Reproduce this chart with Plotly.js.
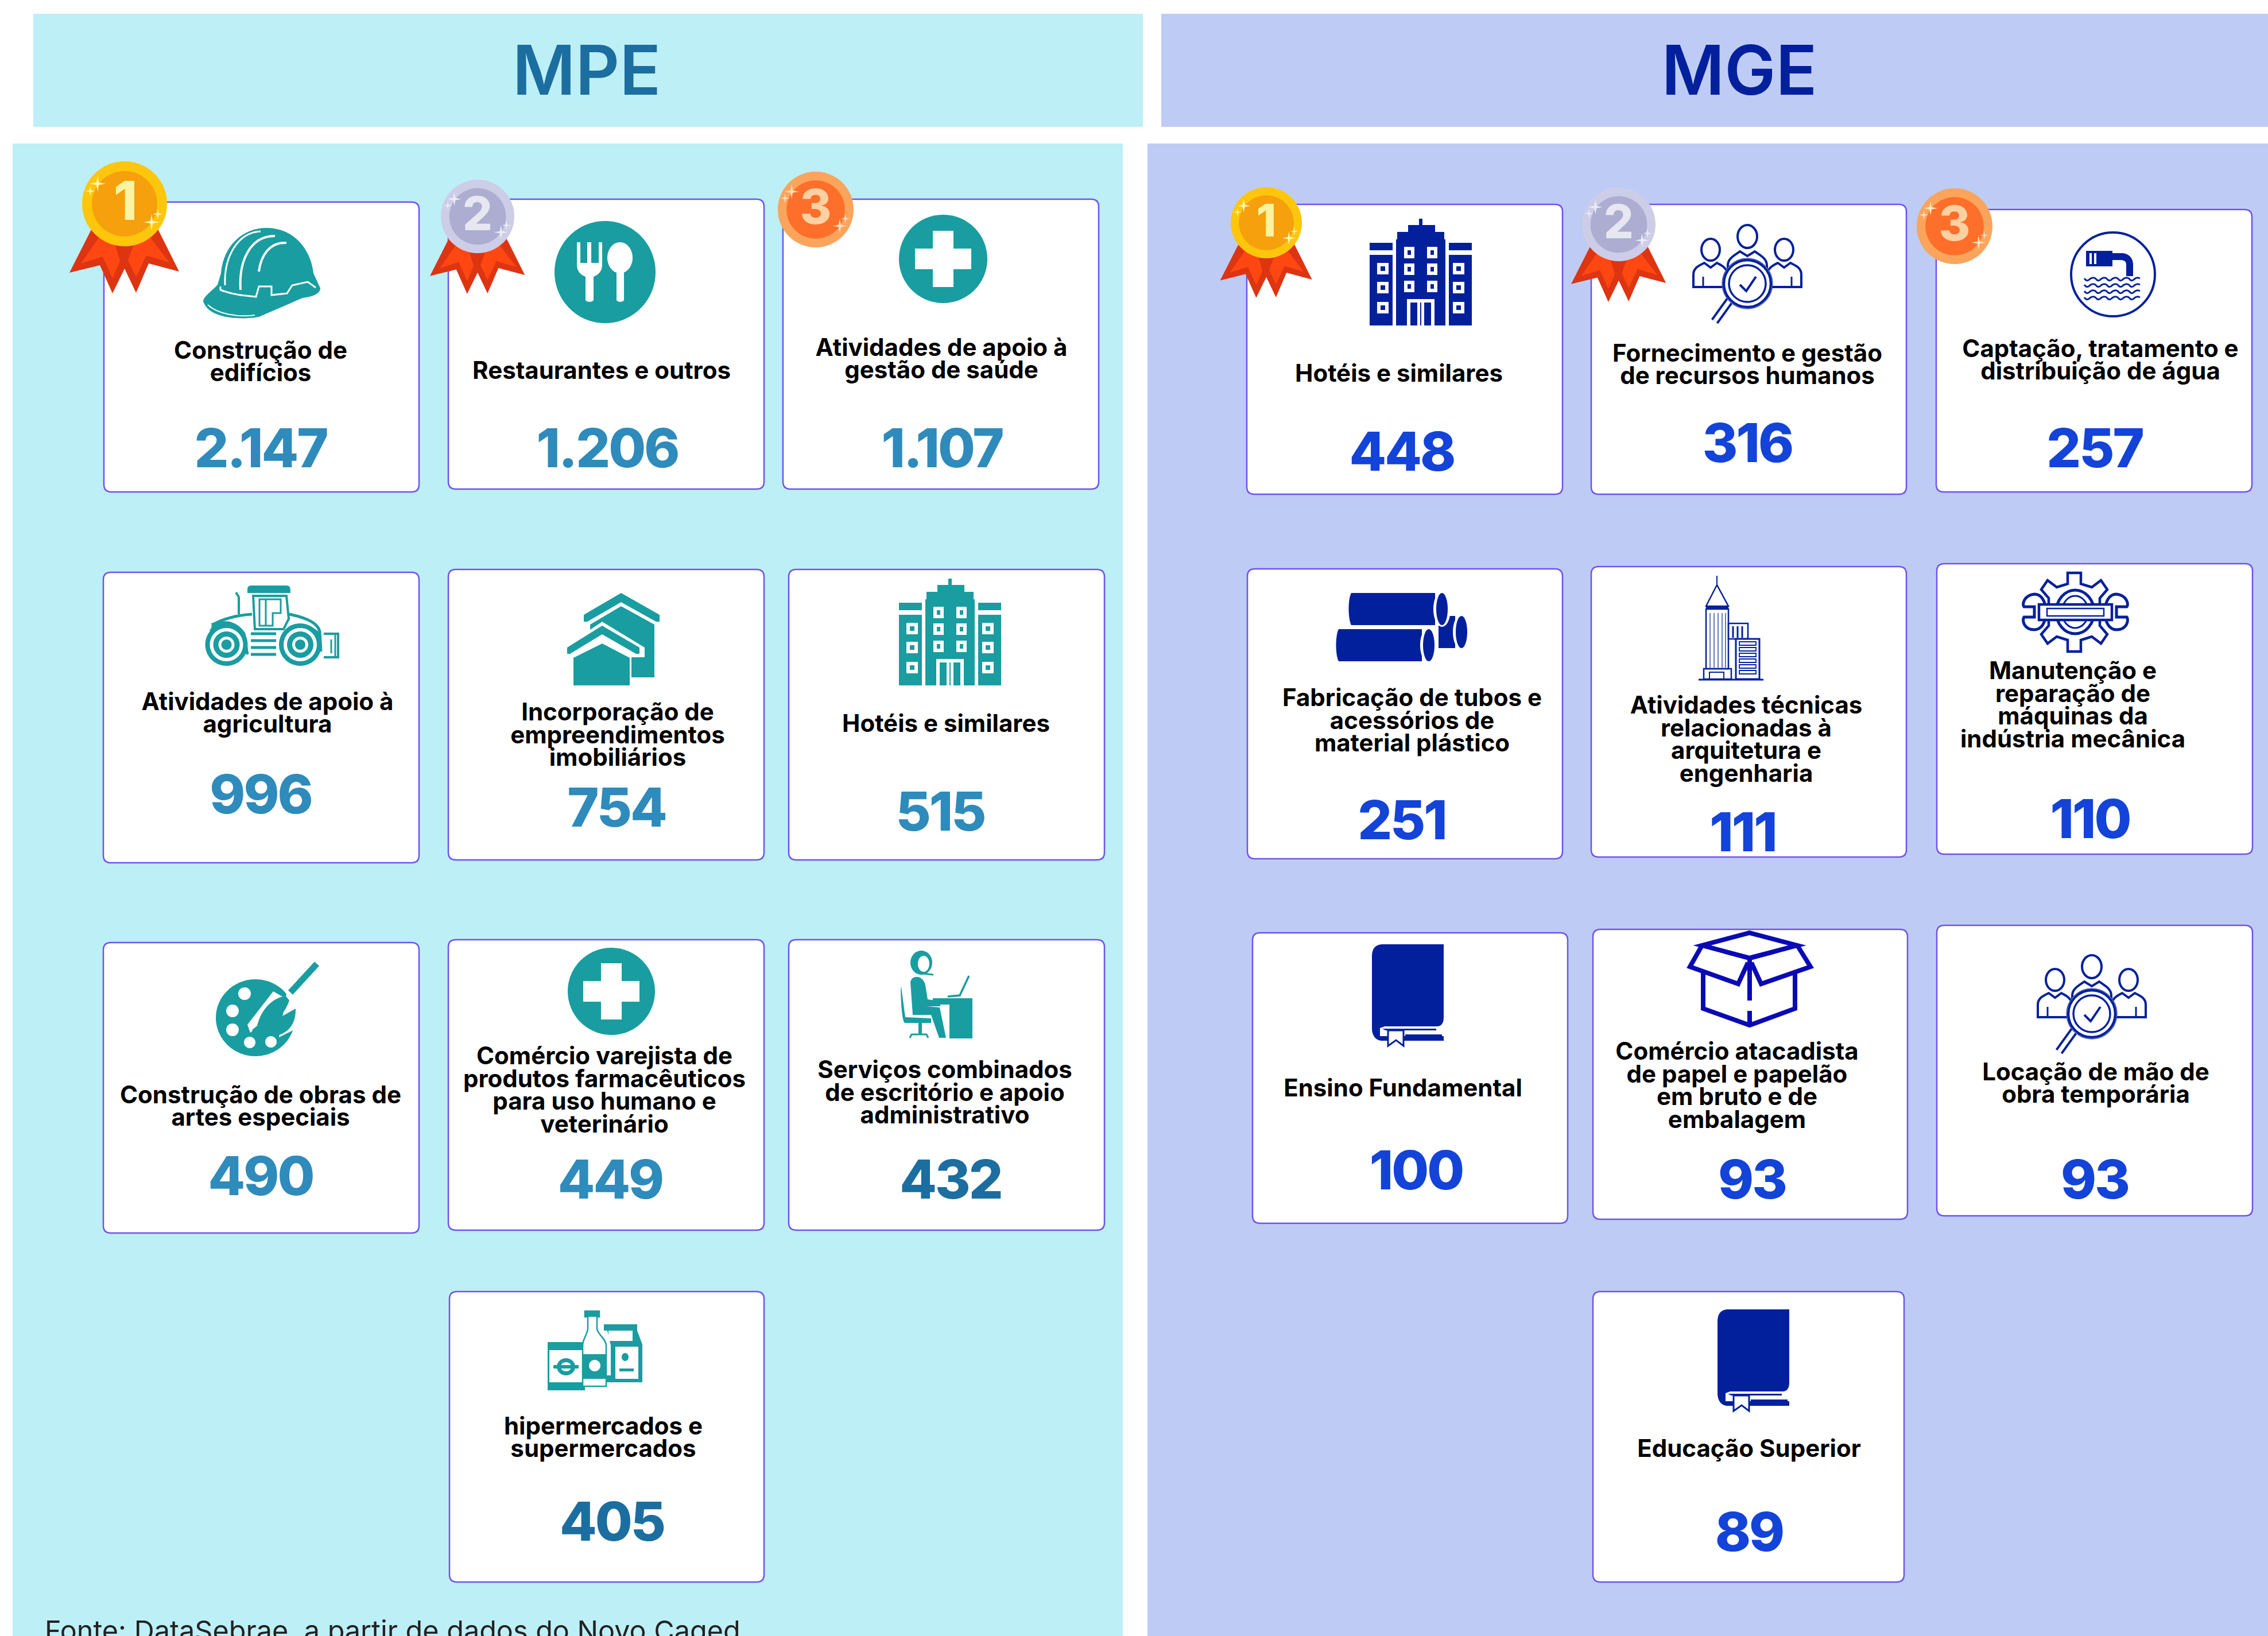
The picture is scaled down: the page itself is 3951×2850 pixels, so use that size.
<!DOCTYPE html>
<html><head><meta charset="utf-8">
<script src="https://cdn.plot.ly/plotly-3.0.1.min.js"></script>
<style>html,body{margin:0;padding:0;background:#fff;overflow:hidden}</style>
</head><body><div id="chart" style="width:3951px;height:2850px"></div>
<script>
// ---------- chart values ----------
const groupTitles = ["MPE", "MGE"];
const mpeLabels = ["Construção de|edifícios","Restaurantes e outros","Atividades de apoio à|gestão de saúde","Atividades de apoio à|agricultura","Incorporação de|empreendimentos|imobiliários","Hotéis e similares","Construção de obras de|artes especiais","Comércio varejista de|produtos farmacêuticos|para uso humano e|veterinário","Serviços combinados|de escritório e apoio|administrativo","hipermercados e|supermercados"];
const mpeValues = ["2.147","1.206","1.107","996","754","515","490","449","432","405"];
const mgeLabels = ["Hotéis e similares","Fornecimento e gestão|de recursos humanos","Captação, tratamento e|distribuição de água","Fabricação de tubos e|acessórios de|material plástico","Atividades técnicas|relacionadas à|arquitetura e|engenharia","Manutenção e|reparação de|máquinas da|indústria mecânica","Ensino Fundamental","Comércio atacadista|de papel e papelão|em bruto e de|embalagem","Locação de mão de|obra temporária","Educação Superior"];
const mgeValues = ["448","316","257","251","111","110","100","93","93","89"];
const sourceNote = "Fonte: DataSebrae, a partir de dados do Novo Caged";

// ---------- layout positions (page px) ----------
const mpeCards = [[181,352,730,857],[781,347,1331,852],[1364,347,1914,852],[180,997,730,1503],[781,992,1331,1498],[1374,992,1924,1498],[180,1642,730,2148],[781,1637,1331,2143],[1374,1637,1924,2143],[783,2250,1331,2756]];
const mgeCards = [[2172,356,2722,861],[2772,356,3321,861],[3373,365,3923,857],[2173,991,2722,1496],[2772,987,3321,1493],[3374,982,3924,1488],[2182,1625,2731,2131],[2775,1619,3323,2124],[3374,1612,3924,2118],[2775,2250,3317,2756]];
const mpeLabelPos = [[454,634],[1048,649],[1640,629],[466,1246],[1076,1284],[1648,1264],[454,1931],[1053,1903],[1646,1907],[1051,2508]];
const mgeLabelPos = [[2437,654],[3044,639],[3659,631],[2460,1259],[3042,1292],[3611,1232],[2444,1899],[3026,1895],[3651,1891],[3047,2527]];
const mpeValuePos = [[454,790],[1058,790],[1641,790],[454,1393],[1074,1416],[1638,1423],[454,2058],[1063,2064],[1656,2064],[1066,2660]];
const mgeValuePos = [[2442,796],[3044,781],[3649,790],[2442,1438],[3036,1459],[3641,1436],[2467,2048],[3052,2064],[3649,2064],[3047,2678]];
const mpeValueColors = ["#2E8BBB","#2E8BBB","#2E8BBB","#2E8BBB","#2E8BBB","#2E8BBB","#2E8BBB","#2E8BBB","#1B6E9F","#1B6E9F"];
const LINE = 39.5;

// ---------- drawing helpers ----------
const TEAL="#199DA0", NAVY="#03209C", BOX="#0A0AB4", WHITE="#FFFFFF";
const shapes=[];
function tr(path,ox,oy,s){let i=0;return path.replace(/-?\d+(\.\d+)?/g,m=>{const v=+m*s+((i++%2===0)?ox:oy);return v.toFixed(1);});}
function add(path,ox,oy,s,fill,stroke,w){shapes.push({type:'path',xref:'x',yref:'y',layer:'below',path:tr(path,ox,oy,s),fillcolor:fill||'rgba(0,0,0,0)',line:{color:stroke||'rgba(0,0,0,0)',width:stroke?(w||1):0}});}
function E(cx,cy,rx,ry){ry=ry===undefined?rx:ry;const k=.5523;return `M ${cx-rx} ${cy} C ${cx-rx} ${cy-k*ry} ${cx-k*rx} ${cy-ry} ${cx} ${cy-ry} C ${cx+k*rx} ${cy-ry} ${cx+rx} ${cy-k*ry} ${cx+rx} ${cy} C ${cx+rx} ${cy+k*ry} ${cx+k*rx} ${cy+ry} ${cx} ${cy+ry} C ${cx-k*rx} ${cy+ry} ${cx-rx} ${cy+k*ry} ${cx-rx} ${cy} Z`;}
function R(x0,y0,x1,y1){return `M ${x0} ${y0} L ${x1} ${y0} L ${x1} ${y1} L ${x0} ${y1} Z`;}
function rect(x0,y0,x1,y1,rr,fill){shapes.push({type:'rect',xref:'x',yref:'y',layer:'below',x0,y0,x1,y1,fillcolor:fill,line:{width:0}});}
function card(c){const [a,b,d,e]=c,r=13;shapes.push({type:'path',xref:'x',yref:'y',layer:'below',path:`M ${a+r} ${b} L ${d-r} ${b} Q ${d} ${b} ${d} ${b+r} L ${d} ${e-r} Q ${d} ${e} ${d-r} ${e} L ${a+r} ${e} Q ${a} ${e} ${a} ${e-r} L ${a} ${b+r} Q ${a} ${b} ${a+r} ${b} Z`,fillcolor:WHITE,line:{color:'#6F52EE',width:2.5}});}
function star(cx,cy,r){const q=r*.16;return `M ${cx} ${cy-r} L ${cx+q} ${cy-q} L ${cx+r} ${cy} L ${cx+q} ${cy+q} L ${cx} ${cy+r} L ${cx-q} ${cy+q} L ${cx-r} ${cy} L ${cx-q} ${cy-q} Z`;}
const medalTexts={x:[],y:[],t:[],c:[],s:[]};
function medal(cx,cy,r,n){
  const pal={1:["#FFC60B","#F5A00C","#FBF3A0","#FFF3B0"],2:["#CDCDE8","#ADADD2","#E7E7F2","#ECECF6"],3:["#FBA45C","#FD6F2A","#FFD0A2","#FFE0C0"]}[n];
  const s=r/74;
  if(n<3){
    add("M -58 45 L -96 120 L -43 107 L -21 156 L 0 113 L 20 155 L 42 104 L 95 118 L 58 44 Z",cx,cy,s,"#DD3412");
    add("M -42 55 L -76 104 L -38 92 L -21 130 L -8 100 L -20 60 Z",cx,cy,s,"#FF4712");
    add("M 42 55 L 78 102 L 38 90 L 20 128 L 6 98 L 20 60 Z",cx,cy,s,"#FF4712");
  }
  add(E(0,0,74),cx,cy,s,pal[0]);
  add(E(0,0,57),cx,cy,s,pal[1]);
  [[-47,-35,14],[-60,-22,9],[47,32,14],[58,18,9]].forEach(p=>add(star(p[0],p[1],p[2]),cx,cy,s,pal[3]));
  medalTexts.x.push(cx);medalTexts.y.push(cy+4);medalTexts.t.push(String(n));medalTexts.c.push(pal[2]);medalTexts.s.push(94*s);
}
// ---------- icons ----------
function cross(cx,cy,r){add(E(0,0,r),cx,cy,1,TEAL);add("M -18 -49 L 18 -49 L 18 -18 L 49 -18 L 49 18 L 18 18 L 18 49 L -18 49 L -18 18 L -49 18 L -49 -18 L -18 -18 Z",cx,cy,1,WHITE);}
function helmet(o,p){const c=TEAL;
  add("M 25 99 L 31 79 C 35 30 70 0 110 0 C 160 0 188 40 192 79 L 204 105 C 204 115 190 120 173 122 L 97 155 C 70 160 10 160 0 128 C 0 120 15 110 25 99 Z",o,p,1,c);
  add("M 38 100 C 36 50 60 8 100 6",o,p,1,null,WHITE,3);
  add("M 65 108 C 62 60 80 14 125 14",o,p,1,null,WHITE,4);
  add("M 97 76 C 100 50 115 24 145 26",o,p,1,null,WHITE,4);
  add("M 30 102 L 30 108 C 50 116 70 118 92 120 L 97 102 L 119 102 L 119 117 L 146 114 L 155 100 L 182 94 L 196 104",o,p,1,null,WHITE,3);
  add("M 8 134 C 25 150 60 156 90 152",o,p,1,null,WHITE,2);
}
function cutlery(cx,cy){add(E(0,0,88,89),cx,cy,1,TEAL);
  add("M -49 -52 L -43 -52 L -43 -16 L -31 -16 L -31 -52 L -24 -52 L -24 -16 L -11 -16 L -11 -52 L -5 -52 L -5 -12 C -5 0 -14 6 -20 8 L -20 48 C -20 53 -34 53 -34 48 L -34 8 C -40 6 -49 0 -49 -12 Z",cx,cy,1,WHITE);
  add(E(26,-25,22,27),cx,cy,1,WHITE);add("M 20 -5 L 33 -5 L 33 48 C 33 53 20 53 20 48 Z",cx,cy,1,WHITE);}
function tractor(o,p){const c=TEAL;
  add("M 72 13 L 72 6 C 72 1 76 0 80 0 L 140 0 C 146 0 147 3 147 13 Z",o,p,1,c);
  add("M 82 18 L 140 18 L 144 58 L 135 76 L 85 76 Z",o,p,1,null,c,4);
  add("M 93 24 L 130 24 L 130 48 L 116 48 L 116 70 L 93 70 Z",o,p,1,null,c,3);
  add("M 104 24 L 104 70",o,p,1,null,c,3);
  add("M 52 12 L 57 20 L 57 50",o,p,1,null,c,4);
  add("M 12 65 L 12 88 M 12 68 C 30 58 50 52 80 50",o,p,1,null,c,5);
  add("M 8 80 C 20 58 50 60 66 84 L 72 120",o,p,1,null,c,5);
  add("M 145 50 C 175 56 195 66 198 80 L 200 115",o,p,1,null,c,5);
  add("M 130 100 C 140 70 175 62 197 85",o,p,1,null,c,5);
  add("M 78 84 L 122 84 M 78 96 L 122 96 M 78 108 L 122 108 M 78 120 L 122 120",o,p,1,null,c,5);
  add("M 205 84 L 230 84 L 230 125 L 205 125",o,p,1,null,c,4);add("M 218 94 L 218 118 M 225 84 L 225 125",o,p,1,null,c,3);
  [[35.5,103],[164,103]].forEach(w=>{add(E(w[0],w[1],37),o,p,1,c);add(E(w[0],w[1],29),o,p,1,WHITE);add(E(w[0],w[1],23),o,p,1,c);add(E(w[0],w[1],14),o,p,1,WHITE);add(E(w[0],w[1],9),o,p,1,c);});
}
function houses(o,p){const c=TEAL;
  add("M 94 23 L 152 55 L 152 147 L 112 147 L 112 100 L 61 60 L 40 70 L 40 55 Z",o,p,1,c);
  add("M 94 0 L 161 38 L 161 50 L 155 50 L 94 16 L 35 50 L 29 50 L 29 38 Z",o,p,1,c);
  add("M 61 50 L 135 95 L 135 112 L 112 112 L 112 165 L 5 165 L -6 95 Z",o,p,1,WHITE);
  add("M 61 57 L 126 95 L 126 106 L 120 106 L 61 72 L 5 106 L 0 106 L 0 95 Z",o,p,1,c);
  add("M 61 88 L 109 113 L 109 161 L 11 161 L 11 113 Z",o,p,1,c);
}
function hotel(o,p,c){
  add(R(86,0,92,12),o,p,1,c);add(R(67,11,114,24),o,p,1,c);add(R(48,23,130,37),o,p,1,c);add(R(46,36,132,186),o,p,1,c);
  add(R(0,42,40,55),o,p,1,c);add(R(138,42,178,55),o,p,1,c);add(R(0,63,40,186),o,p,1,c);add(R(138,63,178,186),o,p,1,c);
  [[69,59],[109,59],[69,88],[109,88],[69,118],[109,118]].forEach(q=>{add(R(q[0]-9,q[1]-10,q[0]+9,q[1]+10),o,p,1,WHITE);add(R(q[0]-3,q[1]-4,q[0]+3,q[1]+4),o,p,1,c);});
  [[23,87],[155,87],[23,120],[155,120],[23,155],[155,155]].forEach(q=>{add(R(q[0]-10,q[1]-10,q[0]+10,q[1]+10),o,p,1,WHITE);add(R(q[0]-4,q[1]-4,q[0]+4,q[1]+4),o,p,1,c);});
  add(R(65,140,113,186),o,p,1,WHITE);add(R(71,146,83,186),o,p,1,c);add(R(88,146,90,186),o,p,1,c);add(R(95,146,107,186),o,p,1,c);
}
function palette(o,p){const c=TEAL;
  add(E(69,96,69,67),o,p,1,c);
  add("M 125 42 L 170 42 L 170 100 L 110 130 Z",o,p,1,WHITE);
  add("M 139 80 C 140 120 110 135 68 128 L 95 105 Z",o,p,1,c);
  add("M 128 66 L 100 50 L 55 108 L 60 122 Z",o,p,1,WHITE);
  add("M 176 2 L 130 52",o,p,1,null,c,11);
  add("M 122 58 C 95 62 78 85 72 110 L 62 118 C 90 122 118 95 128 66 Z",o,p,1,c);
  [[50,54,11],[29,84,11],[29,117,11],[59,139,10],[96,138,10]].forEach(q=>add(E(q[0],q[1],q[2]),o,p,1,WHITE));
}
function person(o,p){const c=TEAL;
  add(E(37,21,19,21),o,p,1,c);add(E(41,23,10,14),o,p,1,WHITE);add("M 40 40 L 58 42",o,p,1,null,c,3);
  add("M 18 55 C 20 42 40 42 44 60 L 48 85 L 70 88 L 70 97 L 46 97 L 69 99 L 80 152 L 68 152 L 54 112 L 22 112 Z",o,p,1,c);
  add("M 2 63 L 9 116 L 54 118 L 54 126 L 8 126 C 2 122 0 60 2 63 Z",o,p,1,c);
  add(R(32,126,38,147),o,p,1,c);add("M 17 152 L 20 146 L 46 146 L 49 152",o,p,1,null,c,3);
  add("M 57 83 L 126 83 L 126 153 L 86 153 L 86 94 L 57 94 Z",o,p,1,c);
  add("M 120 44 L 104 78 L 83 80",o,p,1,null,c,3.5);
}
function grocery(o,p){const c=TEAL;
  add(R(0,54,65,138),o,p,1,c);add(R(3,68,62,124),o,p,1,WHITE);
  add(E(32,97,16,15),o,p,1,c);add(E(32,97,9,8),o,p,1,WHITE);add(R(10,94,54,100),o,p,1,c);
  add("M 65 0 L 90 0 L 90 10 L 86 10 L 86 30 C 86 40 102 48 102 60 L 102 131 L 61 131 L 61 60 C 61 48 70 40 70 30 L 70 10 L 65 10 Z",o,p,1,WHITE,c,2.5);
  add(R(61,75,102,118),o,p,1,c);add(E(82,95,10,10),o,p,1,WHITE);add(R(65,0,90,10),o,p,1,c);
  add("M 98 23 L 156 23 L 156 34 L 165 58 L 165 124 L 102 124 L 102 112 L 110 112 L 110 60 L 104 34 L 98 34 Z",o,p,1,c);
  add(R(106,34,148,52),o,p,1,WHITE);add(R(118,62,158,118),o,p,1,WHITE);add(E(135,80,6,7),o,p,1,c);add(R(125,100,150,105),o,p,1,c);
}
function waterIcon(o,p){const c=NAVY;
  add(E(75,75,73),o,p,1,null,c,4);
  add(R(28,34,74,61),o,p,1,c);add(R(34,38,38,57),o,p,1,WHITE);add(R(42,38,46,57),o,p,1,WHITE);
  add("M 70 38 L 90 38 C 102 38 110 46 110 58 L 110 78 L 98 78 L 98 58 C 98 52 94 50 88 50 L 70 50 Z",o,p,1,c);
  [84,95,106,117].forEach(y=>{let d=`M 25 ${y-2}`;for(let i=0;i<5;i++){const x=25+i*19.4;d+=` Q ${x+4.8} ${y+5} ${x+9.7} ${y-1} Q ${x+14.5} ${y-5} ${x+19.4} ${y-2}`;}add(d,o,p,1,null,c,3);});
}
function people(o,p,s){const c=NAVY;
  [[33,41,16],[161,41,16],[97,18,17]].forEach(h=>add(E(h[0],h[1],h[2],h[2]+3),o,p,s,WHITE,c,4));
  add("M 3 106 L 3 84 C 3 72 14 68 22 64 L 33 72 L 44 64 C 52 68 60 72 64 84 L 64 106 Z",o,p,s,WHITE,c,4);
  add("M 130 106 L 130 84 C 134 72 142 68 150 64 L 161 72 L 172 64 C 180 68 191 72 191 84 L 191 106 Z",o,p,s,WHITE,c,4);
  add("M 63 90 L 63 68 C 63 56 76 50 84 44 L 97 52 L 110 44 C 118 50 131 56 131 68 L 131 90 Z",o,p,s,WHITE,c,4);
  add("M 20 106 L 20 88 M 174 106 L 174 88",o,p,s,null,c,3);
  add("M 68 127 L 40 166",o,p,s,null,c,15);add("M 68 127 L 40 166",o,p,s,null,WHITE,7);
  add(E(97,100,44,44),o,p,s,WHITE,c,0);
  add(E(97,100,41,41),o,p,s,WHITE,c,4.5);add(E(97,100,32,32),o,p,s,WHITE,c,3.5);
  add("M 84 102 L 95 113 L 112 88",o,p,s,null,c,4);
}
function book(o,p,s){const c=NAVY;
  add("M 0 22 C 0 5 8 0 20 0 L 125 0 L 125 128 C 125 138 120 143 114 143 L 22 143 L 14 146 L 14 160 L 125 160 L 125 168 L 18 168 C 6 168 0 158 0 146 Z",o,p,s,c);
  add("M 22 148 L 110 148 L 118 158 L 30 158 Z",o,p,s,WHITE);
  add("M 18 147 L 112 147 L 112 150 L 24 150 Z",o,p,s,c);
  add("M 58 157 L 122 157 L 122 162 L 58 162 Z",o,p,s,c);
  add("M 28 150 L 55 150 L 55 177 L 42 167 L 28 177 Z",o,p,s,WHITE,c,3);
}
function boxIcon(o,p){const c=BOX,w=8;
  add("M 23 70 L 23 132 L 104 161 L 183 132 L 183 70",o,p,1,null,c,w);
  add("M 104 75 L 104 118 M 104 136 L 104 160",o,p,1,null,c,w);
  add("M 104 0 L 187 22 L 104 44 L 21 22 Z",o,p,1,null,c,w);
  add("M 21 22 L 0 59 L 84 89 L 101 52",o,p,1,WHITE,c,w);
  add("M 187 22 L 210 59 L 124 89 L 107 52",o,p,1,WHITE,c,w);
  add("M 21 22 L 104 44 L 187 22",o,p,1,null,c,w);
  add("M 104 44 L 104 75",o,p,1,null,c,w);
}
function pipes(o,p){const c=NAVY;
  add("M 178 40 L 207 40 L 207 96 L 178 96 Z",o,p,1,c);add(E(218,68,15,31),o,p,1,WHITE);add(E(218,68,10,28),o,p,1,c);
  add("M 26 0 L 172 0 L 172 56 L 26 56 C 20 45 20 10 26 0 Z",o,p,1,c);add(E(184,28,15,31),o,p,1,WHITE);add(E(184,28,10,28),o,p,1,c);
  add("M 0 60 L 175 60 L 175 120 L 0 120 Z",o,p,1,WHITE);
  add("M 4 63 L 149 63 L 149 119 L 4 119 C -2 108 -2 74 4 63 Z",o,p,1,c);add(E(161,91,15,31),o,p,1,WHITE);add(E(161,91,10,28),o,p,1,c);
}
function tower(o,p){const c=NAVY;
  add("M 32 0 L 32 18",o,p,1,null,c,2);add("M 32 16 L 13 53 L 52 53 Z",o,p,1,null,c,2.5);add(R(13,53,52,58),o,p,1,c);
  add(R(13,58,52,162),o,p,1,null,c,2.5);
  add("M 20 65 L 20 160 M 27 65 L 27 160 M 34 65 L 34 160 M 41 65 L 41 160 M 47 65 L 47 160",o,p,1,null,c,1.2);
  add(R(9,162,57,180),o,p,1,null,c,2.5);add(R(19,168,44,180),o,p,1,null,c,2);
  add(R(52,83,86,110),o,p,1,null,c,2.5);add("M 60 88 L 60 108 M 68 88 L 68 108 M 76 88 L 76 108",o,p,1,null,c,3);
  add(R(65,110,106,180),o,p,1,WHITE,c,3);
  [118,128,138,148,158,168].forEach(y=>add(R(71,y-3,100,y+3),o,p,1,null,c,1.8));
  add("M 0 181 L 113 181",o,p,1,null,c,3);
}
function gear(o,p){const c=NAVY;
  add("M 80 1 L 103 1 L 103 20 L 122 26 L 138 14 L 149 30 L 136 45 L 136 93 L 149 108 L 138 124 L 122 112 L 103 118 L 103 138 L 80 138 L 80 118 L 61 112 L 45 124 L 34 108 L 47 93 L 47 45 L 34 30 L 45 14 L 61 26 L 80 20 Z",o,p,1,WHITE,c,4.5);
  add(E(93,69,33,38),o,p,1,null,c,5);add(E(93,69,23,28),o,p,1,null,c,3);
  add("M 22 38 C 4 40 0 56 4 60 L 22 60 L 22 78 L 4 78 C 0 84 4 100 22 100 C 34 100 42 88 42 69 C 42 50 34 38 22 38 Z",o,p,1,WHITE,c,5);
  add("M 165 38 C 183 40 187 56 183 60 L 165 60 L 165 78 L 183 78 C 187 84 183 100 165 100 C 153 100 145 88 145 69 C 145 50 153 38 165 38 Z",o,p,1,WHITE,c,5);
  add(R(30,56,157,83),o,p,1,WHITE,c,4.5);add(R(44,63,143,76),o,p,1,null,c,2.5);
}
// ---------- draw ----------
rect(58,24,1991,221,0,"#BDEFF7");rect(2023,24,3951,221,0,"#BECCF5");
rect(22,250,1956,2850,0,"#BDEFF7");rect(1999,250,3951,2850,0,"#BECCF5");
mpeCards.concat(mgeCards).forEach(card);
helmet(354,397);cutlery(1054,474);cross(1643,451,77);tractor(359,1020);houses(988,1033);hotel(1566,1008,TEAL);
palette(376,1677);cross(1065,1727,76);person(1568,1656);grocery(954,2284);
hotel(2386,381,NAVY);people(2947,394,1);waterIcon(3606,403);pipes(2328,1033);tower(2959,1003);gear(3522,997);
book(2390,1645,1);boxIcon(2944,1625);people(3547,1666,1);book(2992,2281,1);
medal(217,355,74,1);medal(832,377,64,2);medal(1421,365,66,3);medal(2206,388,62,1);medal(2820,391,64,2);medal(3405,394,66,3);

const FONT="Inter, 'Noto Sans', sans-serif";
function labelTrace(labels,pos){const x=[],y=[],t=[];labels.forEach((l,i)=>{const ls=l.split('|');ls.forEach((s,j)=>{x.push(pos[i][0]);y.push(pos[i][1]+(j-(ls.length-1)/2)*LINE);t.push(s);});});
  return {type:'scatter',mode:'text',x,y,text:t,cliponaxis:false,hoverinfo:'skip',textposition:'middle center',textfont:{family:FONT,size:42,color:'#000000',weight:700}};}
function valueTrace(vals,pos,colors){return {type:'scatter',mode:'text',x:pos.map(p=>p[0]),y:pos.map(p=>p[1]),text:vals,cliponaxis:false,hoverinfo:'skip',textposition:'middle center',textfont:{family:FONT,size:94,color:colors,weight:800}};}
const data=[
 labelTrace(mpeLabels,mpeLabelPos),labelTrace(mgeLabels,mgeLabelPos),
 valueTrace(mpeValues,mpeValuePos,mpeValueColors),valueTrace(mgeValues,mgeValuePos,"#1343D8"),
 {type:'scatter',mode:'text',x:[1022,3030],y:[135,135],text:groupTitles,cliponaxis:false,hoverinfo:'skip',textposition:'middle center',textfont:{family:FONT,size:119,color:["#1B6E9F","#03209C"],weight:600}},
 {type:'scatter',mode:'text',x:medalTexts.x,y:medalTexts.y,text:medalTexts.t,cliponaxis:false,hoverinfo:'skip',textposition:'middle center',textfont:{family:FONT,size:medalTexts.s,color:medalTexts.c,weight:800}},
 {type:'scatter',mode:'text',x:[78],y:[2846],text:[sourceNote],cliponaxis:false,hoverinfo:'skip',textposition:'middle right',textfont:{family:FONT,size:48.5,color:'#222222',weight:400}}
];
const layout={width:3951,height:2850,margin:{l:0,r:0,t:0,b:0,pad:0},paper_bgcolor:'#FFFFFF',plot_bgcolor:'#FFFFFF',showlegend:false,
 xaxis:{range:[0,3951],visible:false,fixedrange:true},yaxis:{range:[2850,0],visible:false,fixedrange:true},shapes};
Plotly.newPlot('chart',data,layout,{displayModeBar:false,staticPlot:true}).then(()=>{
  document.querySelectorAll('.textpoint text').forEach(n=>{const fs=parseFloat(n.style.fontSize||'0');if(fs>=90&&fs<100)n.style.letterSpacing='-3px';});
});
</script></body></html>
